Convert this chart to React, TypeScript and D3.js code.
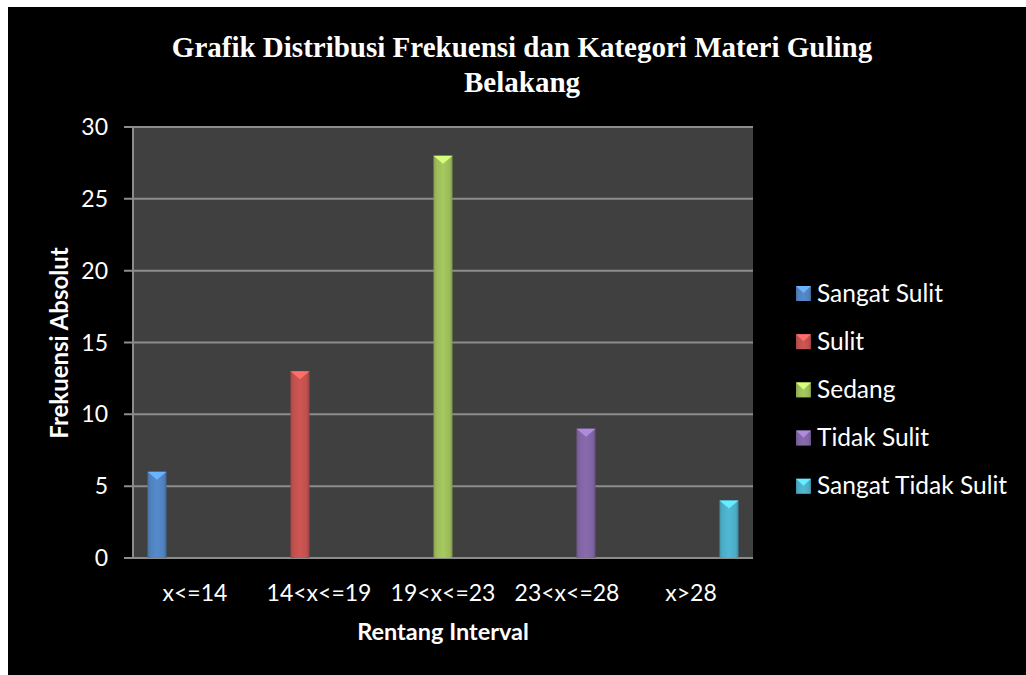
import React from "react";
import * as d3 from "d3";

const categories = ["x<=14", "14<x<=19", "19<x<=23", "23<x<=28", "x>28"];
const seriesNames = ["Sangat Sulit", "Sulit", "Sedang", "Tidak Sulit", "Sangat Tidak Sulit"];
const seriesValues = [6, 13, 28, 9, 4];
const seriesColors = ["#4F81BD", "#C0504D", "#9BBB59", "#8064A2", "#4BACC6"];
const yTicks = [0, 5, 10, 15, 20, 25, 30];

const W = 1026;
const H = 675;
const plot = { left: 133, right: 753, top: 127, bottom: 558 };

export default function App() {
  const x = d3.scaleBand<string>().domain(categories).range([plot.left, plot.right]).paddingInner(0.234).paddingOuter(0.117);
  const xs = d3.scaleBand<string>().domain(seriesNames).range([0, x.bandwidth()]);
  const y = d3.scaleLinear().domain([0, 30]).range([plot.bottom, plot.top]);

  const darker = (c: string, k: number) => d3.color(c)!.darker(k).formatHex();
  const brighter = (c: string, k: number) => d3.color(c)!.brighter(k).formatHex();

  return (
    <svg width={W} height={H} style={{ position: "absolute", left: 0, top: 0 }} fontFamily="Lato, sans-serif">
      <defs>
        {seriesColors.map((c, i) => (
          <linearGradient key={i} id={`g${i}`} x1="0" x2="1" y1="0" y2="0">
            <stop offset="0" stopColor={darker(c, 0.4)} />
            <stop offset="0.15" stopColor={c} />
            <stop offset="0.5" stopColor={brighter(c, 0.2)} />
            <stop offset="0.85" stopColor={c} />
            <stop offset="1" stopColor={darker(c, 0.6)} />
          </linearGradient>
        ))}
      </defs>
      <rect x={0} y={0} width={W} height={H} fill="#ffffff" />
      <rect x={8} y={7} width={W - 8} height={H - 7} fill="#000000" />
      <text x={522} y={57} textAnchor="middle" fill="#ffffff" fontFamily="'Liberation Serif', 'Times New Roman', serif" fontWeight="bold" fontSize={29}>
        Grafik Distribusi Frekuensi dan Kategori Materi Guling
      </text>
      <text x={522} y={92} textAnchor="middle" fill="#ffffff" fontFamily="'Liberation Serif', 'Times New Roman', serif" fontWeight="bold" fontSize={29}>
        Belakang
      </text>
      <rect x={plot.left} y={plot.top} width={plot.right - plot.left} height={plot.bottom - plot.top} fill="#404040" />
      {yTicks.map((t) => (
        <g key={t}>
          <line x1={plot.left - 9} x2={plot.right} y1={y(t)} y2={y(t)} stroke="#8c8c8c" strokeWidth={2} />
          <text x={108} y={y(t)} dy="0.35em" textAnchor="end" fill="#ffffff" fontSize={23}>{t}</text>
        </g>
      ))}
      <line x1={plot.left} x2={plot.left} y1={plot.top} y2={plot.bottom} stroke="#8c8c8c" strokeWidth={2} />
      {categories.map((c) => (
        <text key={c} x={x(c)! + x.bandwidth() / 2} y={593} dy="0.35em" textAnchor="middle" fill="#ffffff" fontSize={23}>{c}</text>
      ))}
      {seriesNames.map((s, i) => {
        const bx = x(categories[i])! + xs(s)!;
        const bw = xs.bandwidth();
        const by = y(seriesValues[i]);
        const bh = plot.bottom - by;
        const c = seriesColors[i];
        return (
          <g key={s}>
            <rect x={bx} y={by} width={bw} height={bh} fill={`url(#g${i})`} />
            <path d={`M${bx},${by}L${bx + bw},${by}L${bx + bw / 2},${by + 8}Z`} fill={brighter(c, 0.9)} />
          </g>
        );
      })}
      <text x={443} y={632} dy="0.35em" textAnchor="middle" fill="#ffffff" fontSize={23.5} fontWeight="bold">Rentang Interval</text>
      <text transform={`translate(60,343) rotate(-90)`} dy="0.35em" textAnchor="middle" fill="#ffffff" fontSize={24} fontWeight="bold">Frekuensi Absolut</text>
      {seriesNames.map((s, i) => {
        const cy = 293 + i * 48.2;
        const c = seriesColors[i];
        return (
          <g key={s}>
            <rect x={796} y={cy - 7} width={15} height={15} fill={`url(#g${i})`} />
            <path d={`M796,${cy - 7}L811,${cy - 7}L803.5,${cy}Z`} fill={brighter(c, 0.9)} />
            <text x={817} y={cy} dy="0.35em" fill="#ffffff" fontSize={24.5}>{s}</text>
          </g>
        );
      })}
    </svg>
  );
}
